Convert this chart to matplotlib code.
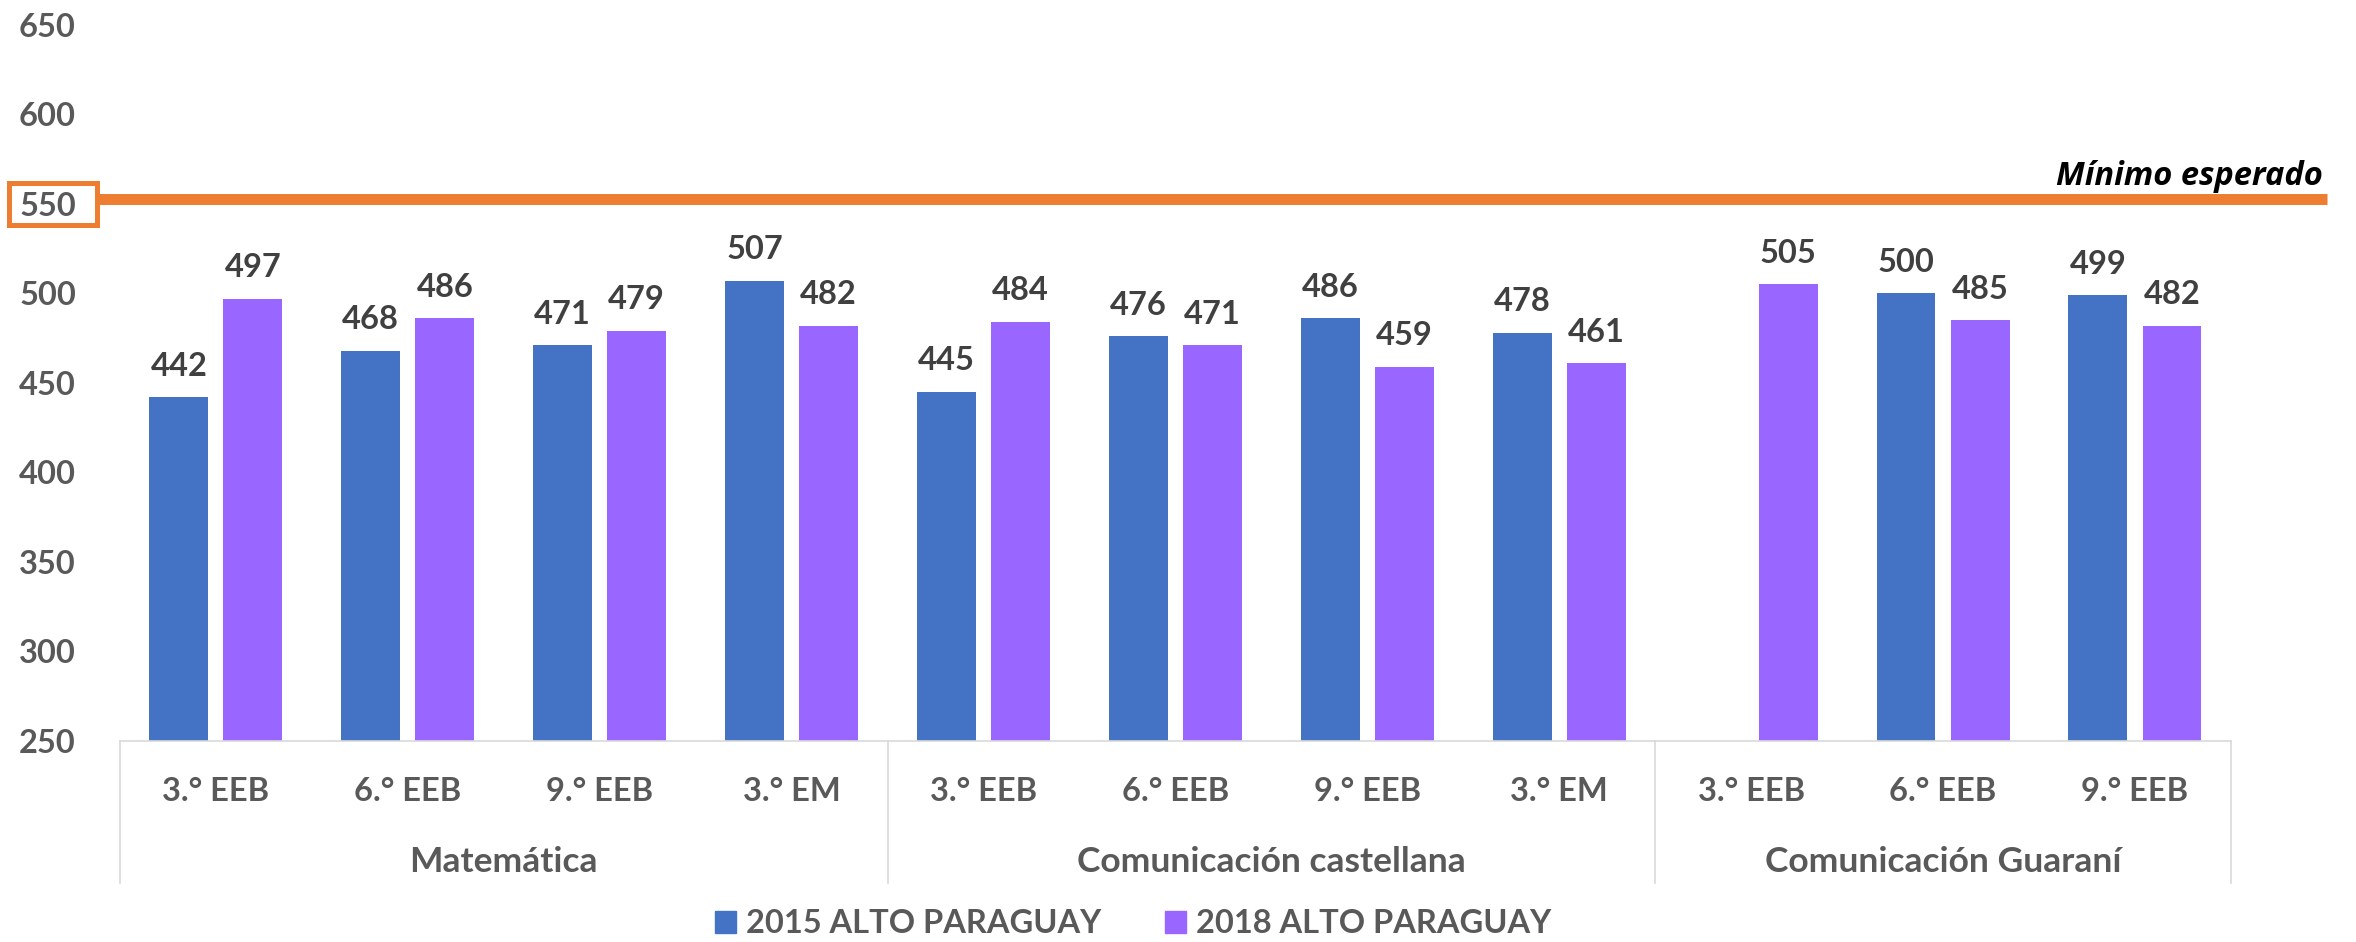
import numpy as np
import matplotlib
matplotlib.use("Agg")
import matplotlib.pyplot as plt
from matplotlib.patches import Patch, Rectangle
from matplotlib.lines import Line2D
from matplotlib.transforms import blended_transform_factory

# ---- data ----
categories = ['3.° EEB', '6.° EEB', '9.° EEB', '3.° EM',
              '3.° EEB', '6.° EEB', '9.° EEB', '3.° EM',
              '3.° EEB', '6.° EEB', '9.° EEB']
groups = ['Matemática', 'Comunicación castellana', 'Comunicación Guaraní']
group_sizes = [4, 4, 3]
series_names = ['2015 ALTO PARAGUAY', '2018 ALTO PARAGUAY']
v2015 = [442, 468, 471, 507, 445, 476, 486, 478, np.nan, 500, 499]
v2018 = [497, 486, 479, 482, 484, 471, 459, 461, 505, 485, 482]
minimo = 550
minimo_label = 'Mínimo esperado'
yticks = [250, 300, 350, 400, 450, 500, 550, 600, 650]

# ---- style ----
plt.rcParams['font.family'] = ['Lato', 'DejaVu Sans']
FS = 23.5
C2015 = '#4472C4'
C2018 = '#9966FF'
ORANGE = '#ED7D31'
TICKC = '#595959'
LABC = '#404040'
GRID = '#D9D9D9'

fig = plt.figure(figsize=(23.56, 9.42), dpi=100)
ax = fig.add_axes([0.0509, 0.2137, 0.8960, 0.7598])

x = np.arange(len(categories))
off = 0.193
w = 0.307
ax.bar(x - off, v2015, width=w, color=C2015, zorder=2)
ax.bar(x + off, v2018, width=w, color=C2018, zorder=2)

ax.set_ylim(250, 650)
ax.set_xlim(-0.5, len(categories) - 0.5)
ax.set_yticks(yticks)
ax.tick_params(axis='y', length=0, pad=31.7, labelsize=FS, labelcolor=TICKC)
for lab in ax.get_yticklabels():
    lab.set_fontweight('bold')
ax.set_xticks([])
for s in ['top', 'right', 'left']:
    ax.spines[s].set_visible(False)
ax.spines['bottom'].set_color(GRID)
ax.spines['bottom'].set_linewidth(1.2)

# data labels
for xs, vals in [(x - off, v2015), (x + off, v2018)]:
    for xi, v in zip(xs, vals):
        if np.isnan(v):
            continue
        ax.annotate(f'{int(v)}', xy=(xi, v), xytext=(0, 15.5),
                    textcoords='offset points', ha='center', va='baseline',
                    fontsize=FS, fontweight='bold', color=LABC)

# category & group labels
trans = blended_transform_factory(ax.transData, ax.transAxes)
for xi, c in zip(x, categories):
    ax.text(xi, -0.0843, c, transform=trans, ha='center', va='baseline',
            fontsize=FS, fontweight='bold', color=TICKC)
start = -0.5
bounds = [start]
for g, n in zip(groups, group_sizes):
    ax.text(start + n / 2, -0.1835, g, transform=trans, ha='center',
            va='baseline', fontsize=25.5, fontweight='bold', color=TICKC)
    start += n
    bounds.append(start)
for bx in bounds:
    ax.add_line(Line2D([bx, bx], [0, -0.1988], transform=trans, color=GRID,
                       lw=1.2, clip_on=False))

# minimum line
ftrans = blended_transform_factory(fig.transFigure, ax.transData)
line_y = minimo + 3
ax.add_line(Line2D([0.042, 0.9877], [line_y, line_y], transform=ftrans,
                   color=ORANGE, lw=7.9, clip_on=False, solid_capstyle='butt',
                   zorder=3))
ax.annotate(minimo_label, xy=(0.986, line_y), xycoords=ftrans,
            xytext=(0, 9.7), textcoords='offset points', ha='right',
            va='baseline', fontsize=FS, fontweight='bold', fontstyle='italic',
            color='black', family=['Open Sans', 'DejaVu Sans'])
# box around the 550 tick label
ax.add_patch(Rectangle((8.5 / 2356, minimo - 11.75), 88 / 2356, 23.5,
                       transform=ftrans, fill=False, ec=ORANGE, lw=3.6,
                       clip_on=False))

# legend
handles = [Patch(color=C2015), Patch(color=C2018)]
leg = fig.legend(handles, series_names, loc='center',
                 bbox_to_anchor=(0.4809, 0.0195), ncol=2, frameon=False,
                 fontsize=FS, handlelength=0.645, handleheight=0.645,
                 handletextpad=0.31, columnspacing=1.96, borderpad=0)
for t in leg.get_texts():
    t.set_color(TICKC)
    t.set_fontweight('bold')

fig.savefig('out.png', dpi=100)
